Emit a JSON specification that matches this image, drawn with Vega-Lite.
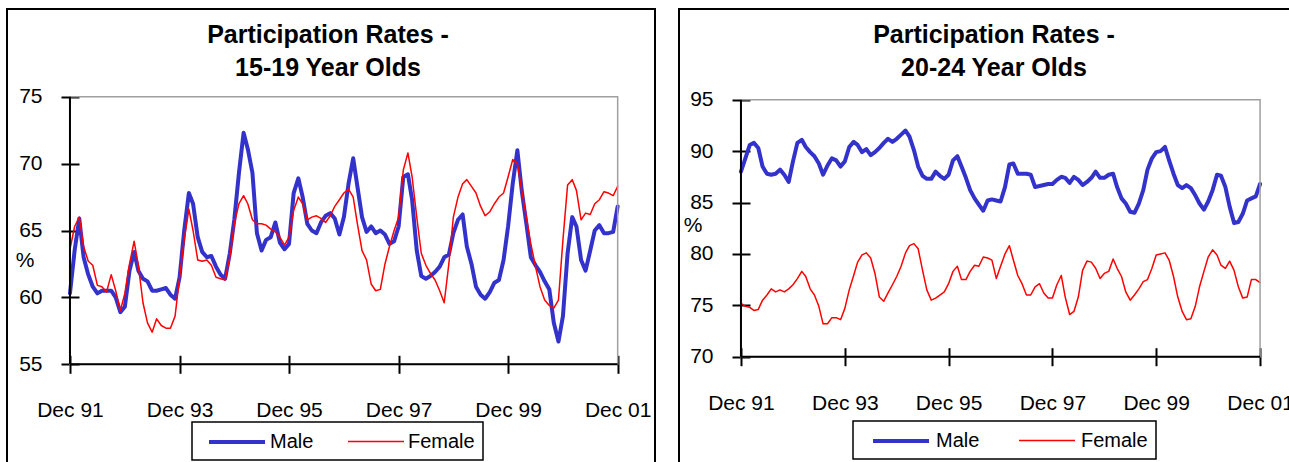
{
"$schema": "https://vega.github.io/schema/vega-lite/v6.json",
"background": "white",
"padding": {"left": 6, "top": 8, "right": -11, "bottom": -4},
"spacing": 22,
"datasets": {
"a": [
{"d":"1991-12-01","Male":60.3,"Female":63.6},{"d":"1992-01-01","Male":63.5,"Female":65.3},{"d":"1992-02-01","Male":65.9,"Female":66.0},{"d":"1992-03-01","Male":63.0,"Female":63.8},{"d":"1992-04-01","Male":61.7,"Female":62.7},{"d":"1992-05-01","Male":60.8,"Female":62.4},{"d":"1992-06-01","Male":60.3,"Female":60.9},{"d":"1992-07-01","Male":60.5,"Female":60.8},{"d":"1992-08-01","Male":60.5,"Female":60.4},{"d":"1992-09-01","Male":60.5,"Female":61.7},{"d":"1992-10-01","Male":60.0,"Female":60.5},{"d":"1992-11-01","Male":58.9,"Female":59.0},
{"d":"1992-12-01","Male":59.3,"Female":60.3},{"d":"1993-01-01","Male":62.0,"Female":62.5},{"d":"1993-02-01","Male":63.4,"Female":64.2},{"d":"1993-03-01","Male":62.0,"Female":62.4},{"d":"1993-04-01","Male":61.4,"Female":59.6},{"d":"1993-05-01","Male":61.2,"Female":58.1},{"d":"1993-06-01","Male":60.5,"Female":57.4},{"d":"1993-07-01","Male":60.5,"Female":58.4},{"d":"1993-08-01","Male":60.6,"Female":57.9},{"d":"1993-09-01","Male":60.7,"Female":57.7},{"d":"1993-10-01","Male":60.2,"Female":57.7},{"d":"1993-11-01","Male":59.9,"Female":58.6},
{"d":"1993-12-01","Male":61.5,"Female":61.5},{"d":"1994-01-01","Male":65.0,"Female":64.3},{"d":"1994-02-01","Male":67.8,"Female":66.6},{"d":"1994-03-01","Male":67.0,"Female":65.0},{"d":"1994-04-01","Male":64.5,"Female":62.8},{"d":"1994-05-01","Male":63.4,"Female":62.7},{"d":"1994-06-01","Male":63.0,"Female":62.8},{"d":"1994-07-01","Male":63.1,"Female":62.4},{"d":"1994-08-01","Male":62.3,"Female":61.5},{"d":"1994-09-01","Male":61.7,"Female":61.4},{"d":"1994-10-01","Male":61.4,"Female":61.3},{"d":"1994-11-01","Male":63.3,"Female":63.0},
{"d":"1994-12-01","Male":65.8,"Female":65.5},{"d":"1995-01-01","Male":69.3,"Female":67.0},{"d":"1995-02-01","Male":72.3,"Female":67.6},{"d":"1995-03-01","Male":71.1,"Female":67.0},{"d":"1995-04-01","Male":69.3,"Female":65.8},{"d":"1995-05-01","Male":64.8,"Female":65.5},{"d":"1995-06-01","Male":63.5,"Female":65.5},{"d":"1995-07-01","Male":64.3,"Female":65.4},{"d":"1995-08-01","Male":64.5,"Female":65.1},{"d":"1995-09-01","Male":65.6,"Female":64.9},{"d":"1995-10-01","Male":64.1,"Female":64.5},{"d":"1995-11-01","Male":63.6,"Female":63.9},
{"d":"1995-12-01","Male":64.0,"Female":64.5},{"d":"1996-01-01","Male":67.8,"Female":66.5},{"d":"1996-02-01","Male":68.9,"Female":67.5},{"d":"1996-03-01","Male":67.5,"Female":67.0},{"d":"1996-04-01","Male":65.5,"Female":65.8},{"d":"1996-05-01","Male":65.0,"Female":66.0},{"d":"1996-06-01","Male":64.8,"Female":66.1},{"d":"1996-07-01","Male":65.6,"Female":65.9},{"d":"1996-08-01","Male":66.1,"Female":65.6},{"d":"1996-09-01","Male":66.3,"Female":66.1},{"d":"1996-10-01","Male":65.9,"Female":66.8},{"d":"1996-11-01","Male":64.7,"Female":67.3},
{"d":"1996-12-01","Male":66.0,"Female":67.8},{"d":"1997-01-01","Male":68.5,"Female":68.1},{"d":"1997-02-01","Male":70.4,"Female":67.5},{"d":"1997-03-01","Male":68.3,"Female":65.5},{"d":"1997-04-01","Male":66.0,"Female":63.5},{"d":"1997-05-01","Male":64.9,"Female":62.8},{"d":"1997-06-01","Male":65.3,"Female":61.0},{"d":"1997-07-01","Male":64.8,"Female":60.5},{"d":"1997-08-01","Male":65.0,"Female":60.6},{"d":"1997-09-01","Male":64.7,"Female":62.5},{"d":"1997-10-01","Male":64.0,"Female":63.8},{"d":"1997-11-01","Male":64.2,"Female":65.0},
{"d":"1997-12-01","Male":65.3,"Female":66.0},{"d":"1998-01-01","Male":69.0,"Female":69.5},{"d":"1998-02-01","Male":69.2,"Female":70.8},{"d":"1998-03-01","Male":67.3,"Female":69.0},{"d":"1998-04-01","Male":63.5,"Female":66.0},{"d":"1998-05-01","Male":61.6,"Female":63.3},{"d":"1998-06-01","Male":61.4,"Female":62.4},{"d":"1998-07-01","Male":61.6,"Female":61.8},{"d":"1998-08-01","Male":61.9,"Female":61.3},{"d":"1998-09-01","Male":62.3,"Female":60.5},{"d":"1998-10-01","Male":63.0,"Female":59.6},{"d":"1998-11-01","Male":63.2,"Female":62.5},
{"d":"1998-12-01","Male":64.8,"Female":66.0},{"d":"1999-01-01","Male":65.8,"Female":67.5},{"d":"1999-02-01","Male":66.2,"Female":68.5},{"d":"1999-03-01","Male":63.8,"Female":68.8},{"d":"1999-04-01","Male":62.5,"Female":68.3},{"d":"1999-05-01","Male":60.8,"Female":67.8},{"d":"1999-06-01","Male":60.2,"Female":66.8},{"d":"1999-07-01","Male":59.9,"Female":66.1},{"d":"1999-08-01","Male":60.4,"Female":66.4},{"d":"1999-09-01","Male":61.1,"Female":67.0},{"d":"1999-10-01","Male":61.3,"Female":67.5},{"d":"1999-11-01","Male":62.8,"Female":67.8},
{"d":"1999-12-01","Male":65.3,"Female":69.0},{"d":"2000-01-01","Male":68.5,"Female":70.3},{"d":"2000-02-01","Male":71.0,"Female":70.0},{"d":"2000-03-01","Male":68.0,"Female":68.0},{"d":"2000-04-01","Male":65.5,"Female":66.0},{"d":"2000-05-01","Male":63.0,"Female":64.0},{"d":"2000-06-01","Male":62.4,"Female":62.3},{"d":"2000-07-01","Male":61.9,"Female":60.8},{"d":"2000-08-01","Male":61.2,"Female":59.8},{"d":"2000-09-01","Male":60.6,"Female":59.4},{"d":"2000-10-01","Male":58.1,"Female":59.2},{"d":"2000-11-01","Male":56.7,"Female":59.8},
{"d":"2000-12-01","Male":58.6,"Female":64.3},{"d":"2001-01-01","Male":63.3,"Female":68.4},{"d":"2001-02-01","Male":66.0,"Female":68.8},{"d":"2001-03-01","Male":65.3,"Female":68.0},{"d":"2001-04-01","Male":62.8,"Female":65.8},{"d":"2001-05-01","Male":62.0,"Female":66.3},{"d":"2001-06-01","Male":63.5,"Female":66.2},{"d":"2001-07-01","Male":65.0,"Female":67.0},{"d":"2001-08-01","Male":65.4,"Female":67.3},{"d":"2001-09-01","Male":64.8,"Female":67.9},{"d":"2001-10-01","Male":64.8,"Female":67.8},{"d":"2001-11-01","Male":64.9,"Female":67.6},
{"d":"2001-12-01","Male":66.8,"Female":68.3}
],
"b": [
{"d":"1991-12-01","Male":88.0,"Female":75.2},{"d":"1992-01-01","Male":89.3,"Female":74.9},{"d":"1992-02-01","Male":90.6,"Female":74.8},{"d":"1992-03-01","Male":90.8,"Female":74.5},{"d":"1992-04-01","Male":90.3,"Female":74.6},{"d":"1992-05-01","Male":88.5,"Female":75.5},{"d":"1992-06-01","Male":87.8,"Female":76.0},{"d":"1992-07-01","Male":87.7,"Female":76.6},{"d":"1992-08-01","Male":87.8,"Female":76.3},{"d":"1992-09-01","Male":88.2,"Female":76.5},{"d":"1992-10-01","Male":87.7,"Female":76.3},{"d":"1992-11-01","Male":87.0,"Female":76.6},
{"d":"1992-12-01","Male":89.0,"Female":77.0},{"d":"1993-01-01","Male":90.8,"Female":77.6},{"d":"1993-02-01","Male":91.1,"Female":78.3},{"d":"1993-03-01","Male":90.4,"Female":77.8},{"d":"1993-04-01","Male":89.9,"Female":76.6},{"d":"1993-05-01","Male":89.5,"Female":76.0},{"d":"1993-06-01","Male":88.8,"Female":74.9},{"d":"1993-07-01","Male":87.7,"Female":73.2},{"d":"1993-08-01","Male":88.6,"Female":73.2},{"d":"1993-09-01","Male":89.3,"Female":73.8},{"d":"1993-10-01","Male":89.1,"Female":73.8},{"d":"1993-11-01","Male":88.5,"Female":73.6},
{"d":"1993-12-01","Male":89.0,"Female":74.7},{"d":"1994-01-01","Male":90.4,"Female":76.5},{"d":"1994-02-01","Male":90.9,"Female":77.9},{"d":"1994-03-01","Male":90.6,"Female":79.2},{"d":"1994-04-01","Male":89.9,"Female":79.9},{"d":"1994-05-01","Male":90.2,"Female":80.1},{"d":"1994-06-01","Male":89.6,"Female":79.6},{"d":"1994-07-01","Male":89.9,"Female":78.1},{"d":"1994-08-01","Male":90.3,"Female":75.8},{"d":"1994-09-01","Male":90.8,"Female":75.4},{"d":"1994-10-01","Male":91.2,"Female":76.2},{"d":"1994-11-01","Male":90.9,"Female":77.0},
{"d":"1994-12-01","Male":91.2,"Female":77.8},{"d":"1995-01-01","Male":91.6,"Female":78.8},{"d":"1995-02-01","Male":92.0,"Female":80.1},{"d":"1995-03-01","Male":91.4,"Female":80.8},{"d":"1995-04-01","Male":90.1,"Female":81.0},{"d":"1995-05-01","Male":88.5,"Female":80.5},{"d":"1995-06-01","Male":87.6,"Female":78.4},{"d":"1995-07-01","Male":87.3,"Female":76.5},{"d":"1995-08-01","Male":87.3,"Female":75.5},{"d":"1995-09-01","Male":88.0,"Female":75.7},{"d":"1995-10-01","Male":87.6,"Female":76.0},{"d":"1995-11-01","Male":87.3,"Female":76.3},
{"d":"1995-12-01","Male":87.7,"Female":77.1},{"d":"1996-01-01","Male":89.1,"Female":78.3},{"d":"1996-02-01","Male":89.5,"Female":78.8},{"d":"1996-03-01","Male":88.5,"Female":77.5},{"d":"1996-04-01","Male":87.4,"Female":77.5},{"d":"1996-05-01","Male":86.2,"Female":78.3},{"d":"1996-06-01","Male":85.4,"Female":78.9},{"d":"1996-07-01","Male":84.8,"Female":78.8},{"d":"1996-08-01","Male":84.2,"Female":79.7},{"d":"1996-09-01","Male":85.2,"Female":79.6},{"d":"1996-10-01","Male":85.3,"Female":79.4},{"d":"1996-11-01","Male":85.2,"Female":77.6},
{"d":"1996-12-01","Male":85.1,"Female":78.8},{"d":"1997-01-01","Male":86.5,"Female":80.0},{"d":"1997-02-01","Male":88.7,"Female":80.8},{"d":"1997-03-01","Male":88.8,"Female":79.4},{"d":"1997-04-01","Male":87.8,"Female":77.9},{"d":"1997-05-01","Male":87.8,"Female":77.1},{"d":"1997-06-01","Male":87.8,"Female":76.0},{"d":"1997-07-01","Male":87.7,"Female":76.0},{"d":"1997-08-01","Male":86.5,"Female":76.8},{"d":"1997-09-01","Male":86.6,"Female":77.1},{"d":"1997-10-01","Male":86.7,"Female":76.2},{"d":"1997-11-01","Male":86.8,"Female":75.7},
{"d":"1997-12-01","Male":86.8,"Female":75.7},{"d":"1998-01-01","Male":87.2,"Female":77.0},{"d":"1998-02-01","Male":87.5,"Female":77.9},{"d":"1998-03-01","Male":87.4,"Female":75.8},{"d":"1998-04-01","Male":86.9,"Female":74.1},{"d":"1998-05-01","Male":87.5,"Female":74.4},{"d":"1998-06-01","Male":87.2,"Female":75.8},{"d":"1998-07-01","Male":86.7,"Female":78.4},{"d":"1998-08-01","Male":87.0,"Female":79.3},{"d":"1998-09-01","Male":87.4,"Female":79.2},{"d":"1998-10-01","Male":88.0,"Female":78.6},{"d":"1998-11-01","Male":87.4,"Female":77.6},
{"d":"1998-12-01","Male":87.4,"Female":78.1},{"d":"1999-01-01","Male":87.7,"Female":78.3},{"d":"1999-02-01","Male":87.8,"Female":79.5},{"d":"1999-03-01","Male":86.5,"Female":78.6},{"d":"1999-04-01","Male":85.4,"Female":77.8},{"d":"1999-05-01","Male":84.9,"Female":76.3},{"d":"1999-06-01","Male":84.1,"Female":75.5},{"d":"1999-07-01","Male":84.0,"Female":76.0},{"d":"1999-08-01","Male":84.9,"Female":76.6},{"d":"1999-09-01","Male":86.2,"Female":77.3},{"d":"1999-10-01","Male":88.2,"Female":77.5},{"d":"1999-11-01","Male":89.3,"Female":78.6},
{"d":"1999-12-01","Male":89.9,"Female":79.9},{"d":"2000-01-01","Male":90.0,"Female":80.0},{"d":"2000-02-01","Male":90.4,"Female":80.1},{"d":"2000-03-01","Male":89.1,"Female":79.4},{"d":"2000-04-01","Male":87.8,"Female":77.8},{"d":"2000-05-01","Male":86.7,"Female":75.8},{"d":"2000-06-01","Male":86.4,"Female":74.4},{"d":"2000-07-01","Male":86.7,"Female":73.6},{"d":"2000-08-01","Male":86.4,"Female":73.7},{"d":"2000-09-01","Male":85.7,"Female":74.9},{"d":"2000-10-01","Male":84.9,"Female":76.8},{"d":"2000-11-01","Male":84.3,"Female":78.3},
{"d":"2000-12-01","Male":85.1,"Female":79.7},{"d":"2001-01-01","Male":86.2,"Female":80.4},{"d":"2001-02-01","Male":87.7,"Female":79.9},{"d":"2001-03-01","Male":87.6,"Female":78.9},{"d":"2001-04-01","Male":86.5,"Female":78.6},{"d":"2001-05-01","Male":84.6,"Female":79.3},{"d":"2001-06-01","Male":83.0,"Female":78.4},{"d":"2001-07-01","Male":83.1,"Female":76.8},{"d":"2001-08-01","Male":83.9,"Female":75.7},{"d":"2001-09-01","Male":85.2,"Female":75.8},{"d":"2001-10-01","Male":85.4,"Female":77.5},{"d":"2001-11-01","Male":85.6,"Female":77.5},
{"d":"2001-12-01","Male":86.8,"Female":77.2}
]
},
"config": {
"view": {"stroke": "#000000", "strokeWidth": 2},
"font": "Liberation Sans",
"axis": {"domain": false, "grid": false, "ticks": true, "tickSize": 18, "tickWidth": 2, "tickColor": "#000000", "labelFont": "Liberation Sans Narrow, Arial Narrow, Liberation Sans, sans-serif", "labelFontSize": 21, "labelColor": "#000000", "titleFont": "Liberation Sans Narrow, Arial Narrow, Liberation Sans, sans-serif", "titleFontSize": 21, "titleFontWeight": "normal", "titleColor": "#000000"},
"legend": {"strokeWidth": 1.5},
"title": {"font": "Liberation Sans", "fontSize": 25, "fontWeight": "bold", "color": "#000000", "lineHeight": 33.5, "anchor": "middle", "frame": "group", "baseline": "top"}
},
"resolve": {"scale": {"color": "independent", "strokeWidth": "independent"}, "legend": {"color": "independent", "strokeWidth": "independent"}},
"hconcat": [
{
"width": 648, "height": 456,
"title": {"text": ["Participation Rates -", "15-19 Year Olds"], "offset": -72, "dx": -3},
"layer": [
{"data": {"name": "a"},
 "mark": {"type": "line", "strokeJoin": "round", "strokeCap": "round"},
 "encoding": {
  "x": {"field": "d", "type": "temporal",
   "scale": {"type": "utc", "nice": false, "domain": [{"year": 1990, "month": 10, "date": 7, "utc": true}, {"year": 2002, "month": 8, "date": 7, "utc": true}]},
   "axis": {"title": null, "offset": -109.7, "labelPadding": 26, "labelFlush": false, "labelOverlap": false, "labelExpr": "utcFormat(datum.value, '%b %y')",
    "values": [{"year": 1991, "month": 12, "date": 1, "utc": true}, {"year": 1993, "month": 12, "date": 1, "utc": true}, {"year": 1995, "month": 12, "date": 1, "utc": true}, {"year": 1997, "month": 12, "date": 1, "utc": true}, {"year": 1999, "month": 12, "date": 1, "utc": true}, {"year": 2001, "month": 12, "date": 1, "utc": true}]}},
  "y": {"field": "Male", "type": "quantitative",
   "scale": {"domain": [47.474, 81.555], "nice": false, "zero": false},
   "axis": {"values": [55, 60, 65, 70, 75], "offset": -72, "labelPadding": 19, "title": "%", "titleAngle": 0, "titleX": -54.5, "titleY": 251, "titleAlign": "center", "titleBaseline": "middle"}},
  "color": {"datum": "Male", "type": "nominal", "scale": {"domain": ["Male", "Female"], "range": ["#3333CC", "#FF0000"]},
   "legend": {"title": null, "orient": "none", "legendX": 185, "legendY": 413, "direction": "horizontal", "symbolType": "M-2.8,0H2.8", "symbolSize": 400, "symbolOffset": 25, "labelOffset": 21, "columnPadding": 26, "padding": 8, "strokeColor": "#000000", "fillColor": "#ffffff", "labelFont": "Liberation Sans", "labelFontSize": 20, "labelColor": "#000000"}},
  "strokeWidth": {"datum": "Male", "type": "ordinal", "scale": {"domain": ["Male", "Female"], "range": [4, 1.5]},
   "legend": {"title": null, "orient": "none", "legendX": 185, "legendY": 413, "direction": "horizontal", "symbolType": "M-2.8,0H2.8", "symbolSize": 400, "symbolOffset": 25, "labelOffset": 21, "columnPadding": 26, "padding": 8, "strokeColor": "#000000", "fillColor": "#ffffff", "labelFont": "Liberation Sans", "labelFontSize": 20, "labelColor": "#000000"}}
 }},
{"data": {"name": "a"},
 "mark": {"type": "line", "strokeJoin": "round", "strokeCap": "round"},
 "encoding": {
  "x": {"field": "d", "type": "temporal"},
  "y": {"field": "Female", "type": "quantitative"},
  "color": {"datum": "Female", "type": "nominal",
   "legend": {"title": null, "orient": "none", "legendX": 185, "legendY": 413, "direction": "horizontal", "symbolType": "M-2.8,0H2.8", "symbolSize": 400, "symbolOffset": 25, "labelOffset": 21, "columnPadding": 26, "padding": 8, "strokeColor": "#000000", "fillColor": "#ffffff", "labelFont": "Liberation Sans", "labelFontSize": 20, "labelColor": "#000000"}},
  "strokeWidth": {"datum": "Female", "type": "ordinal",
   "legend": {"title": null, "orient": "none", "legendX": 185, "legendY": 413, "direction": "horizontal", "symbolType": "M-2.8,0H2.8", "symbolSize": 400, "symbolOffset": 25, "labelOffset": 21, "columnPadding": 26, "padding": 8, "strokeColor": "#000000", "fillColor": "#ffffff", "labelFont": "Liberation Sans", "labelFontSize": 20, "labelColor": "#000000"}}
 }},
{"data": {"values": [{}]}, "mark": {"type": "rect", "filled": false, "color": "#a0a0a0", "strokeWidth": 1.5},
 "encoding": {
  "x": {"datum": {"year": 1991, "month": 12, "date": 1, "utc": true}, "type": "temporal"},
  "x2": {"datum": {"year": 2001, "month": 12, "date": 1, "utc": true}},
  "y": {"datum": 55, "type": "quantitative"},
  "y2": {"datum": 75}}},
{"data": {"values": [{}]}, "mark": {"type": "rule", "color": "#000000", "strokeWidth": 2},
 "encoding": {
  "x": {"datum": {"year": 1991, "month": 12, "date": 1, "utc": true}, "type": "temporal"},
  "y": {"datum": 55, "type": "quantitative"},
  "y2": {"datum": 75}}},
{"data": {"values": [{}]}, "mark": {"type": "rule", "color": "#000000", "strokeWidth": 2},
 "encoding": {
  "x": {"datum": {"year": 1991, "month": 12, "date": 1, "utc": true}, "type": "temporal"},
  "x2": {"datum": {"year": 2001, "month": 12, "date": 1, "utc": true}},
  "y": {"datum": 55, "type": "quantitative"}}}
]
},
{
"width": 620, "height": 456,
"title": {"text": ["Participation Rates -", "20-24 Year Olds"], "offset": -72, "dx": 5},
"layer": [
{"data": {"name": "b"},
 "mark": {"type": "line", "strokeJoin": "round", "strokeCap": "round"},
 "encoding": {
  "x": {"field": "d", "type": "temporal",
   "scale": {"type": "utc", "nice": false, "domain": [{"year": 1990, "month": 9, "date": 21, "utc": true}, {"year": 2002, "month": 9, "date": 1, "utc": true}]},
   "axis": {"title": null, "offset": -117.3, "labelPadding": 27, "labelFlush": false, "labelOverlap": false, "labelExpr": "utcFormat(datum.value, '%b %y')",
    "values": [{"year": 1991, "month": 12, "date": 1, "utc": true}, {"year": 1993, "month": 12, "date": 1, "utc": true}, {"year": 1995, "month": 12, "date": 1, "utc": true}, {"year": 1997, "month": 12, "date": 1, "utc": true}, {"year": 1999, "month": 12, "date": 1, "utc": true}, {"year": 2001, "month": 12, "date": 1, "utc": true}]}},
  "y": {"field": "Male", "type": "quantitative",
   "scale": {"domain": [59.465, 103.823], "nice": false, "zero": false},
   "axis": {"values": [70, 75, 80, 85, 90, 95], "offset": -71, "labelPadding": 19, "title": "%", "titleAngle": 0, "titleX": -57.5, "titleY": 216, "titleAlign": "center", "titleBaseline": "middle"}},
  "color": {"datum": "Male", "type": "nominal", "scale": {"domain": ["Male", "Female"], "range": ["#3333CC", "#FF0000"]},
   "legend": {"title": null, "orient": "none", "legendX": 174, "legendY": 412, "direction": "horizontal", "symbolType": "M-2.8,0H2.8", "symbolSize": 400, "symbolOffset": 28, "labelOffset": 23, "columnPadding": 28, "padding": 8, "strokeColor": "#000000", "fillColor": "#ffffff", "labelFont": "Liberation Sans", "labelFontSize": 20, "labelColor": "#000000"}},
  "strokeWidth": {"datum": "Male", "type": "ordinal", "scale": {"domain": ["Male", "Female"], "range": [4, 1.5]},
   "legend": {"title": null, "orient": "none", "legendX": 174, "legendY": 412, "direction": "horizontal", "symbolType": "M-2.8,0H2.8", "symbolSize": 400, "symbolOffset": 28, "labelOffset": 23, "columnPadding": 28, "padding": 8, "strokeColor": "#000000", "fillColor": "#ffffff", "labelFont": "Liberation Sans", "labelFontSize": 20, "labelColor": "#000000"}}
 }},
{"data": {"name": "b"},
 "mark": {"type": "line", "strokeJoin": "round", "strokeCap": "round"},
 "encoding": {
  "x": {"field": "d", "type": "temporal"},
  "y": {"field": "Female", "type": "quantitative"},
  "color": {"datum": "Female", "type": "nominal",
   "legend": {"title": null, "orient": "none", "legendX": 174, "legendY": 412, "direction": "horizontal", "symbolType": "M-2.8,0H2.8", "symbolSize": 400, "symbolOffset": 28, "labelOffset": 23, "columnPadding": 28, "padding": 8, "strokeColor": "#000000", "fillColor": "#ffffff", "labelFont": "Liberation Sans", "labelFontSize": 20, "labelColor": "#000000"}},
  "strokeWidth": {"datum": "Female", "type": "ordinal",
   "legend": {"title": null, "orient": "none", "legendX": 174, "legendY": 412, "direction": "horizontal", "symbolType": "M-2.8,0H2.8", "symbolSize": 400, "symbolOffset": 28, "labelOffset": 23, "columnPadding": 28, "padding": 8, "strokeColor": "#000000", "fillColor": "#ffffff", "labelFont": "Liberation Sans", "labelFontSize": 20, "labelColor": "#000000"}}
 }},
{"data": {"values": [{}]}, "mark": {"type": "rect", "filled": false, "color": "#a0a0a0", "strokeWidth": 1.5},
 "encoding": {
  "x": {"datum": {"year": 1991, "month": 12, "date": 1, "utc": true}, "type": "temporal"},
  "x2": {"datum": {"year": 2001, "month": 12, "date": 1, "utc": true}},
  "y": {"datum": 70, "type": "quantitative"},
  "y2": {"datum": 95}}},
{"data": {"values": [{}]}, "mark": {"type": "rule", "color": "#000000", "strokeWidth": 2},
 "encoding": {
  "x": {"datum": {"year": 1991, "month": 12, "date": 1, "utc": true}, "type": "temporal"},
  "y": {"datum": 70, "type": "quantitative"},
  "y2": {"datum": 95}}},
{"data": {"values": [{}]}, "mark": {"type": "rule", "color": "#000000", "strokeWidth": 2},
 "encoding": {
  "x": {"datum": {"year": 1991, "month": 12, "date": 1, "utc": true}, "type": "temporal"},
  "x2": {"datum": {"year": 2001, "month": 12, "date": 1, "utc": true}},
  "y": {"datum": 70, "type": "quantitative"}}}
]
}
]
}
